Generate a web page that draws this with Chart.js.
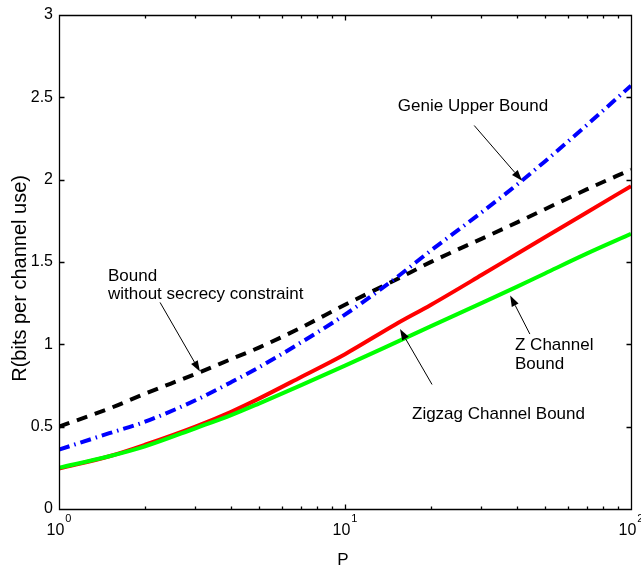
<!DOCTYPE html>
<html>
<head>
<meta charset="utf-8">
<script src="https://cdn.jsdelivr.net/npm/chart.js@4/dist/chart.umd.min.js"></script>
<style>
html,body{margin:0;padding:0;background:#fff;}
canvas{display:block;}
</style>
</head>
<body>
<canvas id="c" width="641" height="571"></canvas>
<script>
// ---- data ----
const P = [1, 1.5, 2, 3, 4, 5, 7, 10, 15, 20, 30, 40, 50, 70, 100];
const boundNoSecrecy = [0.50, 0.61, 0.70, 0.82, 0.91, 0.98, 1.10, 1.24, 1.39, 1.50, 1.64, 1.74, 1.82, 1.94, 2.06];
const genieUpper     = [0.36, 0.46, 0.53, 0.66, 0.77, 0.86, 1.01, 1.18, 1.40, 1.57, 1.80, 1.97, 2.11, 2.33, 2.57];
const zigzagBound    = [0.245, 0.32, 0.39, 0.50, 0.59, 0.67, 0.80, 0.94, 1.12, 1.24, 1.42, 1.55, 1.65, 1.80, 1.96];
const zChannelBound  = [0.25, 0.32, 0.38, 0.49, 0.57, 0.64, 0.75, 0.87, 1.01, 1.11, 1.25, 1.35, 1.43, 1.55, 1.67];

const yTicks = [0, 0.5, 1, 1.5, 2, 2.5, 3];
const xMajor = [1, 10, 100];
const xMajorBase = ['10', '10', '10'];
const xMajorExp = ['0', '1', '2'];
const xMinor = [2,3,4,5,6,7,8,9,20,30,40,50,60,70,80,90];

const xTitle = 'P';
const yTitle = 'R(bits per channel use)';

// annotations in data space: text lines at (P, R) baseline-left; arrows from -> to
const annotations = [
  { lines: ['Genie Upper Bound'], p: 15.3, r: [2.418], from: [28.3, 2.328], to: [41.6, 1.992] },
  { lines: ['Bound', 'without secrecy constraint'], p: 1.483, r: [1.386, 1.274], from: [2.256, 1.254], to: [3.11, 0.834] },
  { lines: ['Z Channel', 'Bound'], p: 39.3, r: [0.966, 0.852], from: [44.3, 1.062], to: [37.8, 1.296] },
  { lines: ['Zigzag Channel Bound'], p: 17.15, r: [0.546], from: [20.15, 0.756], to: [15.57, 1.092] }
];

const FONT = '"Liberation Sans", Arial, Helvetica, sans-serif';

function pts(ys) { return P.map((p, i) => ({ x: p, y: ys[i] })); }

const deco = {
  id: 'deco',
  afterDatasetsDraw(chart) {
    const ctx = chart.ctx, xs = chart.scales.x, ys = chart.scales.y, a = chart.chartArea;
    ctx.save();
    const L = Math.round(a.left) + 0.5, R = Math.round(a.right) + 0.5;
    const T = Math.round(a.top) + 0.5, B = Math.round(a.bottom) + 0.5;
    ctx.strokeStyle = '#000';
    ctx.lineWidth = 1.3;
    ctx.beginPath();
    ctx.rect(L, T, R - L, B - T);
    yTicks.forEach(v => {
      const y = Math.round(ys.getPixelForValue(v)) + 0.5;
      ctx.moveTo(L, y); ctx.lineTo(L + 5, y);
      ctx.moveTo(R, y); ctx.lineTo(R - 5, y);
    });
    xMajor.forEach(v => {
      const x = Math.round(xs.getPixelForValue(v)) + 0.5;
      ctx.moveTo(x, B); ctx.lineTo(x, B - 5);
      ctx.moveTo(x, T); ctx.lineTo(x, T + 5);
    });
    xMinor.forEach(v => {
      const x = Math.round(xs.getPixelForValue(v)) + 0.5;
      ctx.moveTo(x, B); ctx.lineTo(x, B - 3);
      ctx.moveTo(x, T); ctx.lineTo(x, T + 3);
    });
    ctx.stroke();

    // x tick labels with superscripts
    ctx.fillStyle = '#000';
    ctx.textAlign = 'left';
    ctx.textBaseline = 'alphabetic';
    const baseFont = '16px ' + FONT, expFont = '11px ' + FONT;
    xMajor.forEach((v, i) => {
      const px = xs.getPixelForValue(v);
      ctx.font = baseFont; const w1 = ctx.measureText(xMajorBase[i]).width;
      ctx.font = expFont; const w2 = ctx.measureText(xMajorExp[i]).width;
      const s = px - (w1 + w2 + 1) / 2;
      ctx.font = baseFont; ctx.fillText(xMajorBase[i], s, a.bottom + 26);
      ctx.font = expFont; ctx.fillText(xMajorExp[i], s + w1 + 1, a.bottom + 13);
    });

    // axis titles
    ctx.font = '17px ' + FONT;
    ctx.textAlign = 'center';
    ctx.fillText(xTitle, (a.left + a.right) / 2 - 2, a.bottom + 56);
    ctx.save();
    ctx.translate(a.left - 39, (a.top + a.bottom) / 2 + 16.5);
    ctx.rotate(-Math.PI / 2);
    ctx.font = '20px ' + FONT;
    ctx.textBaseline = 'middle';
    ctx.fillText(yTitle, 0, 0);
    ctx.restore();

    // annotations
    ctx.font = '17px ' + FONT;
    ctx.textAlign = 'left';
    ctx.textBaseline = 'alphabetic';
    annotations.forEach(an => {
      const tx = xs.getPixelForValue(an.p);
      an.lines.forEach((t, k) => ctx.fillText(t, tx, ys.getPixelForValue(an.r[k])));
      const x0 = xs.getPixelForValue(an.from[0]), y0 = ys.getPixelForValue(an.from[1]);
      const x1 = xs.getPixelForValue(an.to[0]), y1 = ys.getPixelForValue(an.to[1]);
      const ang = Math.atan2(y1 - y0, x1 - x0);
      const hl = 11, hw = 3.8;
      const bx = x1 - hl * Math.cos(ang), by = y1 - hl * Math.sin(ang);
      ctx.lineWidth = 1;
      ctx.beginPath(); ctx.moveTo(x0, y0); ctx.lineTo(bx, by); ctx.stroke();
      ctx.beginPath();
      ctx.moveTo(x1, y1);
      ctx.lineTo(bx + hw * Math.sin(ang), by - hw * Math.cos(ang));
      ctx.lineTo(bx - hw * Math.sin(ang), by + hw * Math.cos(ang));
      ctx.closePath(); ctx.fill();
    });
    ctx.restore();
  }
};

new Chart(document.getElementById('c'), {
  type: 'line',
  data: {
    datasets: [
      { label: 'Z Channel Bound', data: pts(zChannelBound), borderColor: '#00ff00', borderWidth: 4 },
      { label: 'Zigzag Channel Bound', data: pts(zigzagBound), borderColor: '#ff0000', borderWidth: 4 },
      { label: 'Genie Upper Bound', data: pts(genieUpper), borderColor: '#0000ff', borderWidth: 4, borderDash: [11, 5, 1.5, 5] },
      { label: 'Bound without secrecy constraint', data: pts(boundNoSecrecy), borderColor: '#000000', borderWidth: 4, borderDash: [11, 8] }
    ]
  },
  options: {
    responsive: false,
    animation: false,
    devicePixelRatio: 1,
    layout: { padding: { left: 0, right: 10, top: 9, bottom: 0 } },
    elements: {
      point: { radius: 0, hoverRadius: 0 },
      line: { cubicInterpolationMode: 'monotone', borderCapStyle: 'butt', fill: false }
    },
    plugins: { legend: { display: false }, tooltip: { enabled: false } },
    scales: {
      x: {
        type: 'logarithmic', min: 1, max: 100,
        grid: { display: false, drawTicks: false },
        border: { display: false },
        ticks: { display: false },
        afterFit(s) { s.height = 62; }
      },
      y: {
        type: 'linear', min: 0, max: 3,
        grid: { display: false, drawTicks: false },
        border: { display: false },
        afterBuildTicks(s) { s.ticks = yTicks.map(v => ({ value: v })); },
        ticks: {
          color: '#000', padding: 6,
          font: { family: FONT, size: 16, lineHeight: 1.1 },
          callback: v => String(v)
        },
        afterFit(s) { s.width = 59; }
      }
    }
  },
  plugins: [deco]
});
</script>
</body>
</html>
